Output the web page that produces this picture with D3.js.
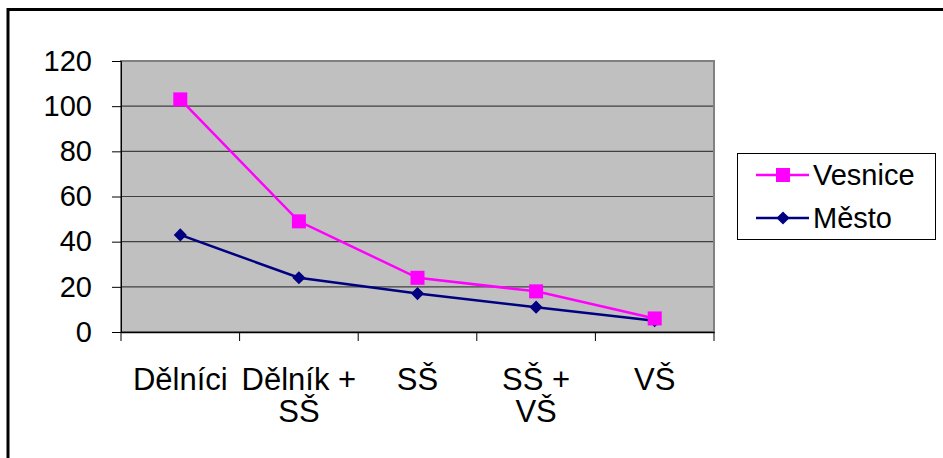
<!DOCTYPE html>
<html><head><meta charset="utf-8">
<script src="https://cdn.jsdelivr.net/npm/d3@7"></script>
<style>body{margin:0;background:#fff}svg{display:block}text{font-family:"Liberation Sans",Arial,sans-serif}</style>
</head><body>
<svg id="c" width="943" height="458"></svg>
<script>
const categories = ["Dělníci", "Dělník + SŠ", "SŠ", "SŠ + VŠ", "VŠ"];
const categoryLines = [["Dělníci"], ["Dělník +", "SŠ"], ["SŠ"], ["SŠ +", "VŠ"], ["VŠ"]];
const vesnice = [103, 49, 24, 18, 6];
const mesto = [43, 24, 17, 11, 5];
const yTicks = [0, 20, 40, 60, 80, 100, 120];
const seriesNames = ["Vesnice", "Město"];

const FS = 29;
const svg = d3.select("#c");
svg.append("rect").attr("x", 8).attr("y", 9.5).attr("width", 960).attr("height", 470)
  .attr("fill", "none").attr("stroke", "#000").attr("stroke-width", 3);

const L = 121, R = 714, T = 61, B = 332;
const x = d3.scaleBand().domain(categories).range([L, R]);
const y = d3.scaleLinear().domain([0, 120]).range([B, T]);

svg.append("rect").attr("x", L).attr("y", T).attr("width", R - L).attr("height", B - T)
  .attr("fill", "#c0c0c0");
svg.selectAll(".grid").data(yTicks).enter().append("line")
  .attr("x1", L).attr("x2", R).attr("y1", d => y(d)).attr("y2", d => y(d))
  .attr("stroke", "#404040").attr("stroke-width", 1.2);
svg.append("rect").attr("x", L).attr("y", T).attr("width", R - L).attr("height", B - T)
  .attr("fill", "none").attr("stroke", "#808080").attr("stroke-width", 2);

const ya = svg.append("g").attr("transform", `translate(${L},0)`)
  .call(d3.axisLeft(y).tickValues(yTicks).tickSize(9).tickPadding(20));
ya.select(".domain").attr("stroke", "#000");
ya.selectAll("line").attr("stroke", "#000");
ya.selectAll("text").attr("font-size", FS).attr("fill", "#000")
  .style("font-family", '"Liberation Sans", Arial, sans-serif');

const xa = svg.append("g").attr("transform", `translate(0,${B})`)
  .call(d3.axisBottom(x).tickValues([]).tickSizeOuter(0));
xa.select(".domain").attr("stroke", "#000").attr("stroke-width", 1.5);
const bounds = categories.map(c => x(c)).concat([R]);
xa.selectAll(".tk").data(bounds).enter().append("line")
  .attr("x1", d => d).attr("x2", d => d).attr("y1", 0).attr("y2", 9).attr("stroke", "#000");
categories.forEach((c, i) => {
  const t = svg.append("text").attr("x", x(c) + x.bandwidth() / 2).attr("y", 390)
    .attr("text-anchor", "middle").attr("font-size", 31).attr("fill", "#000");
  categoryLines[i].forEach((ln, j) => {
    t.append("tspan").attr("x", x(c) + x.bandwidth() / 2).attr("dy", j === 0 ? 0 : 32).text(ln);
  });
});

const cx = c => x(c) + x.bandwidth() / 2;
const line = d3.line().x((d, i) => cx(categories[i])).y(d => y(d));

svg.append("path").datum(mesto).attr("d", line).attr("fill", "none")
  .attr("stroke", "#000080").attr("stroke-width", 2.5);
svg.append("path").datum(vesnice).attr("d", line).attr("fill", "none")
  .attr("stroke", "#ff00ff").attr("stroke-width", 2.5);

svg.selectAll(".dm").data(mesto).enter().append("path")
  .attr("d", d3.symbol(d3.symbolDiamond2, 110))
  .attr("transform", (d, i) => `translate(${cx(categories[i])},${y(d)})`)
  .attr("fill", "#000080");
svg.selectAll(".sq").data(vesnice).enter().append("rect")
  .attr("x", (d, i) => cx(categories[i]) - 7).attr("y", d => y(d) - 7)
  .attr("width", 14).attr("height", 14).attr("fill", "#ff00ff");

const lg = svg.append("g");
lg.append("rect").attr("x", 737.5).attr("y", 153.5).attr("width", 198).attr("height", 86)
  .attr("fill", "#fff").attr("stroke", "#000").attr("stroke-width", 1);
const colors = ["#ff00ff", "#000080"];
seriesNames.forEach((n, i) => {
  const yy = 175 + i * 43;
  lg.append("line").attr("x1", 756).attr("x2", 809).attr("y1", yy).attr("y2", yy)
    .attr("stroke", colors[i]).attr("stroke-width", 2.5);
  if (i === 0) {
    lg.append("rect").attr("x", 776).attr("y", yy - 7).attr("width", 14).attr("height", 14).attr("fill", colors[i]);
  } else {
    lg.append("path").attr("d", d3.symbol(d3.symbolDiamond2, 110))
      .attr("transform", `translate(783,${yy})`).attr("fill", colors[i]);
  }
  lg.append("text").attr("x", 813).attr("y", yy + 10).attr("font-size", FS).attr("fill", "#000").text(n);
});
</script>
</body></html>
